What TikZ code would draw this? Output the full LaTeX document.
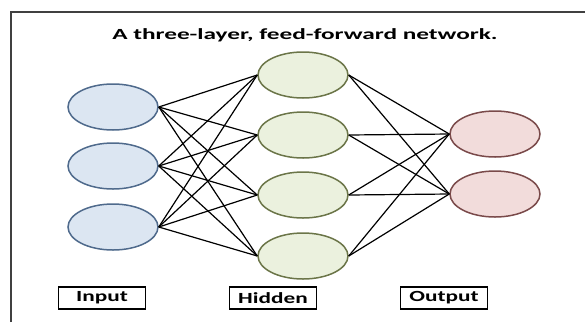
\documentclass[tikz,border=0pt]{standalone}
\usepackage{graphicx}
\usepackage{fontspec}
\setmainfont{Carlito}
\usetikzlibrary{%
  positioning,
  shapes.geometric
}
\definecolor{inputfill}{HTML}{DCE6F2}
\definecolor{inputdraw}{HTML}{4F6A8C}
\definecolor{hiddenfill}{HTML}{EBF1DE}
\definecolor{hiddendraw}{HTML}{6B7548}
\definecolor{outputfill}{HTML}{F2DCDB}
\definecolor{outputdraw}{HTML}{7A4A4A}
\newcommand{\widetext}[2][1.5]{\scalebox{#1}[1]{#2}}
\tikzset{
  neuron/.style = {ellipse, minimum width = 90pt, minimum height = 46pt, inner sep = 0, line width = 1.5pt},
  inneuron/.style = {neuron, draw = inputdraw, fill = inputfill},
  hidneuron/.style = {neuron, draw = hiddendraw, fill = hiddenfill},
  outneuron/.style = {neuron, draw = outputdraw, fill = outputfill},
  layerbox/.style = {draw, line width = 1.2pt, minimum width = 87pt, minimum height = 22pt, inner sep = 0,
    font = \bfseries\fontsize{15.5}{18}\selectfont},
  synapse/.style = {black, line width = 1.2pt}
}

\begin{document}
\begin{tikzpicture}[
      x = 1pt,
      y = -1pt,
      title/.style = {font = \bfseries\fontsize{15.5}{18}\selectfont},
      frame/.style = {black!75, line width = 1.5pt}
      ]
      \useasboundingbox (0,0) rectangle (585,322);
      \draw [frame] (11,322) -- (11,12) -- (585,12);
      \node [title] (caption) at (305,35) {\widetext[1.63]{A three-layer, feed-forward network.}};
      % input layer
      \node [inneuron] (in1) at (113,107) {};
      \node [inneuron] (in2) at (113,166) {};
      \node [inneuron] (in3) at (113,227) {};
      % hidden layer
      \node [hidneuron] (hid1) at (303,75) {};
      \node [hidneuron] (hid2) at (303,135) {};
      \node [hidneuron] (hid3) at (303,195) {};
      \node [hidneuron] (hid4) at (303,256) {};
      % output layer
      \node [outneuron] (out1) at (495,134) {};
      \node [outneuron] (out2) at (495,194) {};
      % labels
      \node [layerbox] (input) at (102,298) {\widetext{Input}};
      \node [layerbox] (hidden) at (273,298) {\widetext{Hidden}};
      \node [layerbox] (output) at (444,298) {\widetext{Output}};
      \foreach \i in {1,2,3}
        \foreach \j in {1,2,3,4}
          \draw [synapse] (in\i.east) -- (hid\j.west);
      \foreach \j in {1,2,3,4}
        \foreach \k in {1,2}
          \draw [synapse] (hid\j.east) -- (out\k.west);
    \end{tikzpicture}
\end{document}
